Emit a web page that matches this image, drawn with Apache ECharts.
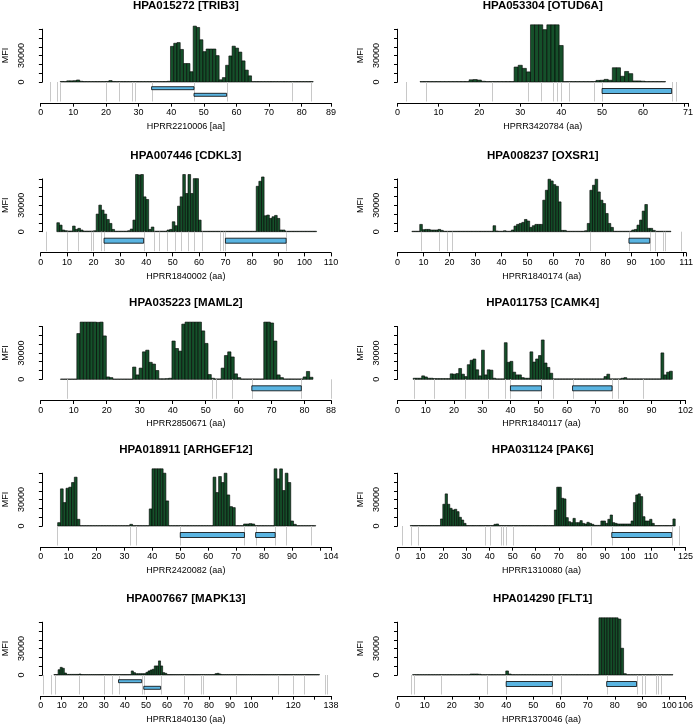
<!DOCTYPE html>
<html>
<head>
<meta charset="utf-8">
<script src="https://cdn.jsdelivr.net/npm/echarts@6/dist/echarts.min.js"></script>
<style>
html, body { margin: 0; padding: 0; background: #fff; }
#chart { width: 696px; height: 725px; }
</style>
</head>
<body>
<div id="chart"></div>
<script>
// MFI per amino acid position, first value is position 6 in every panel
var mfiTRIB3 = [
    600, 500, 1300, 1300, 1500, 2300, 800, 500, 500, 500,
    500, 500, 500, 500, 600, 1600, 600, 500, 500, 500,
    500, 500, 500, 500, 500, 500, 500, 500, 500, 500,
    500, 500, 500, 800, 40500, 44000, 44800, 37000, 21000, 21000,
    11700, 63500, 62000, 48000, 34500, 37500, 37500, 37500, 30000, 2500,
    5000, 19000, 29600, 40700, 38500, 34000, 24000, 13500, 7000, 500,
    500, 500, 500, 500, 500, 500, 500, 500, 500, 500,
    500, 500, 500, 500, 500, 500, 500, 500
];
var mfiOTUD6A = [
    500, 500, 500, 500, 500, 500, 500, 500, 500, 500,
    500, 500, 2500, 2800, 2200, 800, 500, 500, 500, 500,
    500, 500, 500, 17000, 19000, 15500, 11500, 65000, 65000, 65000,
    59500, 65000, 65000, 65000, 41500, 500, 500, 500, 500, 500,
    500, 500, 500, 1800, 2000, 3000, 2000, 16200, 16200, 6500,
    12000, 9500, 1200, 1200, 900, 500, 500, 500, 500, 500
];
var mfiCDKL3 = [
    10200, 7500, 1900, 1100, 800, 800, 6400, 2600, 3800, 1900,
    700, 700, 700, 700, 1100, 20000, 30200, 24500, 20000, 13900,
    9400, 2600, 600, 600, 600, 600, 600, 1100, 3000, 13200,
    65000, 64500, 65000, 39600, 36600, 2600, 5300, 600, 600, 600,
    600, 600, 1900, 2600, 11300, 6800, 29000, 39600, 65000, 43400,
    65000, 43400, 60300, 60300, 13200, 500, 500, 500, 500, 500,
    500, 500, 500, 500, 500, 500, 500, 500, 500, 500,
    500, 500, 500, 500, 500, 500, 51600, 57300, 62200, 18100,
    18900, 15100, 17000, 18500, 15100, 1900, 1900, 500, 500, 500,
    500, 500, 500, 500, 500, 500, 500, 500, 500
];
var mfiOXSR1 = [
    500, 500, 500, 8300, 2300, 2600, 2600, 1900, 1900, 1900,
    2600, 1500, 500, 500, 500, 500, 500, 500, 500, 500,
    500, 500, 500, 500, 500, 500, 500, 500, 500, 500,
    500, 6800, 800, 500, 500, 1100, 500, 500, 1900, 6400,
    8300, 9400, 10600, 13900, 12100, 4900, 6800, 8300, 8300, 8300,
    35800, 47100, 59600, 57700, 53500, 51600, 33900, 1500, 1500, 500,
    500, 500, 500, 500, 500, 500, 1100, 9400, 47100, 52800,
    59600, 45200, 35800, 32000, 20700, 9400, 4900, 500, 500, 500,
    500, 500, 500, 500, 1900, 2600, 7500, 13200, 23400, 30900,
    3800, 3800, 1500, 500, 500, 500, 500, 500, 500
];
var mfiMAML2 = [
    300, 300, 300, 300, 300, 52000, 65000, 65000, 65000, 65000,
    65000, 64700, 65000, 49300, 2700, 1900, 300, 300, 300, 300,
    300, 300, 13900, 5000, 12700, 31200, 33100, 19300, 17300, 10000,
    600, 600, 770, 1200, 43500, 35000, 32000, 62700, 65000, 65000,
    65000, 65000, 65000, 55000, 40800, 5400, 1200, 400, 400, 12700,
    27000, 31200, 25400, 6200, 1900, 400, 400, 400, 400, 400,
    400, 400, 65000, 65000, 64000, 43500, 5000, 1900, 400, 400,
    400, 400, 400, 400, 2700, 8900, 2300
];
var mfiCAMK4 = [
    1200, 1200, 1200, 3900, 2700, 1200, 1200, 800, 800, 800,
    800, 800, 800, 6200, 5800, 6500, 12300, 5800, 3100, 16600,
    21600, 23100, 10800, 3900, 33100, 5000, 10800, 10400, 1200, 500,
    500, 500, 41600, 19300, 20400, 8100, 5000, 5000, 1900, 1200,
    1200, 31200, 19600, 23100, 27000, 44700, 18500, 13500, 6900, 500,
    500, 500, 500, 500, 500, 500, 500, 500, 500, 500,
    500, 500, 500, 500, 500, 500, 500, 3100, 5800, 500,
    500, 500, 500, 1200, 1900, 500, 500, 500, 500, 500,
    500, 500, 500, 500, 500, 500, 500, 30000, 5000, 8100,
    9200
];
var mfiARHGEF12 = [
    3800, 42200, 26600, 42900, 44100, 49400, 55500, 7600, 400, 400,
    400, 400, 400, 400, 400, 400, 400, 400, 400, 400,
    400, 400, 400, 400, 400, 400, 1900, 400, 400, 400,
    400, 400, 400, 19400, 65000, 65000, 65000, 65000, 60000, 28500,
    400, 400, 400, 400, 400, 400, 400, 400, 400, 400,
    400, 400, 400, 400, 400, 400, 55500, 38000, 56200, 49400,
    60000, 35300, 22000, 20900, 400, 400, 400, 2300, 2300, 2700,
    2300, 400, 400, 400, 400, 400, 400, 400, 65000, 53600,
    64900, 40300, 60000, 49400, 5700, 1900, 400, 400, 400, 400,
    400, 400, 400
];
var mfiPAK6 = [
    500, 500, 500, 500, 500, 500, 500, 500, 500, 500,
    500, 500, 500, 8000, 24700, 36500, 24700, 20100, 18200, 19000,
    16300, 9900, 6800, 3000, 500, 500, 500, 500, 500, 500,
    500, 500, 500, 500, 500, 500, 1900, 2300, 500, 500,
    500, 500, 500, 500, 500, 500, 500, 500, 500, 500,
    500, 500, 500, 500, 500, 500, 500, 500, 500, 500,
    500, 500, 18200, 44100, 44100, 31500, 30800, 9500, 4900, 3800,
    8700, 3800, 3800, 6100, 3000, 2300, 4200, 3000, 1900, 700,
    700, 700, 5700, 5700, 3000, 7600, 12500, 3800, 3000, 2300,
    2300, 2300, 2300, 2300, 2300, 5700, 26600, 35300, 36500, 33400,
    10600, 5700, 5700, 7600, 3000, 500, 500, 500, 500, 500,
    500, 500, 500, 8000
];
var mfiMAPK13 = [
    500, 500, 6000, 8700, 7600, 2300, 700, 700, 700, 700,
    700, 700, 1100, 500, 500, 500, 500, 500, 500, 500,
    500, 500, 500, 500, 500, 500, 500, 500, 500, 500,
    500, 500, 500, 500, 500, 500, 500, 4600, 2700, 1500,
    1500, 1500, 1500, 1500, 3000, 4600, 5700, 6500, 10300, 10300,
    16000, 10300, 2700, 1900, 500, 500, 500, 500, 500, 500,
    500, 500, 500, 500, 500, 500, 500, 500, 500, 500,
    500, 500, 500, 500, 500, 500, 500, 1500, 1900, 1100,
    500, 500, 500, 500, 500, 500, 500, 500, 500, 500,
    500, 500, 500, 500, 500, 500, 500, 500, 500, 500,
    500, 500, 500, 500, 500, 500, 500, 500, 500, 500,
    500, 500, 500, 500, 500, 500, 500, 500, 500, 500,
    500, 500, 500, 500, 500, 500, 500
];
var mfiFLT1 = [
    400, 400, 400, 400, 400, 400, 400, 400, 400, 400,
    400, 400, 400, 400, 400, 400, 400, 400, 400, 400,
    400, 1100, 1100, 1100, 800, 400, 400, 400, 400, 400,
    400, 400, 400, 400, 4600, 1100, 400, 400, 400, 400,
    400, 400, 400, 400, 400, 400, 400, 400, 400, 400,
    400, 400, 400, 400, 400, 400, 400, 400, 400, 400,
    400, 400, 400, 400, 400, 400, 400, 400, 65000, 65000,
    65000, 65000, 65000, 65000, 65000, 63600, 30400, 1500, 400, 400,
    400, 400, 400, 400, 400, 400, 400, 400, 400, 400,
    400, 400, 400, 400, 400
];

// peptide boundaries (grey lines) and epitope regions [from, to, row]
var linesTRIB3 = [3, 5, 6, 20, 24, 28, 29, 34, 47, 57, 77, 83];
var epiTRIB3 = [[34, 47, 0], [47, 57, 1]];
var linesOTUD6A = [2, 7, 23, 32, 35, 38, 39, 40, 42, 48, 50, 67, 68];
var epiOTUD6A = [[50, 67, 0]];
var linesCDKL3 = [2, 10, 14, 19, 20, 23, 24, 39, 43, 45, 48, 51, 53, 56, 58, 61, 68, 69, 70, 93];
var epiCDKL3 = [[24, 39, 0], [70, 93, 0]];
var linesOXSR1 = [9, 16, 19, 21, 74, 89, 97, 99, 102, 103, 109];
var epiOXSR1 = [[89, 97, 0]];
var linesMAML2 = [8, 52, 53, 58, 64, 79, 88];
var epiMAML2 = [[64, 79, 0]];
var linesCAMK4 = [6, 13, 24, 32, 38, 40, 51, 55, 62, 76, 78, 87];
var epiCAMK4 = [[40, 51, 0], [62, 76, 0]];
var linesARHGEF12 = [6, 32, 34, 50, 73, 77, 84, 88, 97];
var epiARHGEF12 = [[50, 73, 0], [77, 84, 0]];
var linesPAK6 = [2, 6, 9, 38, 40, 45, 46, 47, 50, 84, 93, 119, 122];
var epiPAK6 = [[93, 119, 0]];
var linesMAPK13 = [1, 5, 7, 18, 30, 34, 37, 48, 49, 57, 68, 76, 77, 93, 113, 120, 125, 135, 136];
var epiMAPK13 = [[37, 48, 0], [49, 57, 1]];
var linesFLT1 = [5, 6, 16, 33, 40, 57, 60, 77, 88, 90, 91, 95, 96, 97];
var epiFLT1 = [[40, 57, 0], [77, 88, 0]];

// axis ticks and the labels that are printed
var mfiTicks = [0, 10000, 20000, 30000, 40000, 50000, 60000];
var mfiLabels = [0, 30000];
var ticksTRIB3 = [0, 10, 20, 30, 40, 50, 60, 70, 80, 89];
var labelsTRIB3 = [0, 10, 20, 30, 40, 50, 60, 70, 80, 89];
var ticksOTUD6A = [0, 10, 20, 30, 40, 50, 60, 70, 71];
var labelsOTUD6A = [0, 10, 20, 30, 40, 50, 60, 71];
var ticksCDKL3 = [0, 10, 20, 30, 40, 50, 60, 70, 80, 90, 100, 110];
var labelsCDKL3 = [0, 10, 20, 30, 40, 50, 60, 70, 80, 90, 100, 110];
var ticksOXSR1 = [0, 10, 20, 30, 40, 50, 60, 70, 80, 90, 100, 110, 111];
var labelsOXSR1 = [0, 10, 20, 30, 40, 50, 60, 70, 80, 90, 100, 111];
var ticksMAML2 = [0, 10, 20, 30, 40, 50, 60, 70, 80, 88];
var labelsMAML2 = [0, 10, 20, 30, 40, 50, 60, 70, 80, 88];
var ticksCAMK4 = [0, 10, 20, 30, 40, 50, 60, 70, 80, 90, 100, 102];
var labelsCAMK4 = [0, 10, 20, 30, 40, 50, 60, 70, 80, 90, 102];
var ticksARHGEF12 = [0, 10, 20, 30, 40, 50, 60, 70, 80, 90, 100, 104];
var labelsARHGEF12 = [0, 10, 20, 30, 40, 50, 60, 70, 80, 90, 104];
var ticksPAK6 = [0, 10, 20, 30, 40, 50, 60, 70, 80, 90, 100, 110, 120, 125];
var labelsPAK6 = [0, 10, 20, 30, 40, 50, 60, 70, 80, 90, 100, 110, 125];
var ticksMAPK13 = [0, 10, 20, 30, 40, 50, 60, 70, 80, 90, 100, 110, 120, 130, 138];
var labelsMAPK13 = [0, 10, 20, 30, 40, 50, 60, 70, 80, 90, 100, 120, 138];
var ticksFLT1 = [0, 10, 20, 30, 40, 50, 60, 70, 80, 90, 100, 106];
var labelsFLT1 = [0, 10, 20, 30, 40, 50, 60, 70, 80, 90, 100, 106];

var panels = [
    { title: "HPA015272 [TRIB3]", xname: "HPRR2210006 [aa]", len: 89, start: 6, mfi: mfiTRIB3, lines: linesTRIB3, epi: epiTRIB3, ticks: ticksTRIB3, labels: labelsTRIB3 },
    { title: "HPA053304 [OTUD6A]", xname: "HPRR3420784 (aa)", len: 71, start: 6, mfi: mfiOTUD6A, lines: linesOTUD6A, epi: epiOTUD6A, ticks: ticksOTUD6A, labels: labelsOTUD6A },
    { title: "HPA007446 [CDKL3]", xname: "HPRR1840002 (aa)", len: 110, start: 6, mfi: mfiCDKL3, lines: linesCDKL3, epi: epiCDKL3, ticks: ticksCDKL3, labels: labelsCDKL3 },
    { title: "HPA008237 [OXSR1]", xname: "HPRR1840174 (aa)", len: 111, start: 6, mfi: mfiOXSR1, lines: linesOXSR1, epi: epiOXSR1, ticks: ticksOXSR1, labels: labelsOXSR1 },
    { title: "HPA035223 [MAML2]", xname: "HPRR2850671 (aa)", len: 88, start: 6, mfi: mfiMAML2, lines: linesMAML2, epi: epiMAML2, ticks: ticksMAML2, labels: labelsMAML2 },
    { title: "HPA011753 [CAMK4]", xname: "HPRR1840117 (aa)", len: 102, start: 6, mfi: mfiCAMK4, lines: linesCAMK4, epi: epiCAMK4, ticks: ticksCAMK4, labels: labelsCAMK4 },
    { title: "HPA018911 [ARHGEF12]", xname: "HPRR2420082 (aa)", len: 104, start: 6, mfi: mfiARHGEF12, lines: linesARHGEF12, epi: epiARHGEF12, ticks: ticksARHGEF12, labels: labelsARHGEF12 },
    { title: "HPA031124 [PAK6]", xname: "HPRR1310080 (aa)", len: 125, start: 6, mfi: mfiPAK6, lines: linesPAK6, epi: epiPAK6, ticks: ticksPAK6, labels: labelsPAK6 },
    { title: "HPA007667 [MAPK13]", xname: "HPRR1840130 (aa)", len: 138, start: 6, mfi: mfiMAPK13, lines: linesMAPK13, epi: epiMAPK13, ticks: ticksMAPK13, labels: labelsMAPK13 },
    { title: "HPA014290 [FLT1]", xname: "HPRR1370046 (aa)", len: 106, start: 6, mfi: mfiFLT1, lines: linesFLT1, epi: epiFLT1, ticks: ticksFLT1, labels: labelsFLT1 }
];

// layout in pixels
var cols = [{ yx: 29.3, x0: 40.7, x1: 331 }, { yx: 386.5, x0: 397.5, x1: 688 }];
var rowBase = [82, 231.7, 379.3, 526, 675];
var plotH = 52.8, annoH = 21;
var font = "'Liberation Sans', Arial, Helvetica, sans-serif";

var option = { animation: false, title: [], grid: [], xAxis: [], yAxis: [], series: [] };

function barItem(params, api) {
    var a = api.coord([api.value(0) - 0.5, api.value(1)]);
    var b = api.coord([api.value(0) + 0.5, 0]);
    return {
        type: "rect",
        shape: { x: a[0], y: a[1], width: b[0] - a[0], height: b[1] - a[1] },
        style: { fill: "#15502a", stroke: "#000", lineWidth: 0.6 }
    };
}

function lineItem(params, api) {
    var t = api.coord([api.value(0), 1]);
    var b = api.coord([api.value(0), 0]);
    var x = Math.round(t[0]) + 0.5;
    return {
        type: "line",
        shape: { x1: x, y1: t[1], x2: x, y2: b[1] - 1.5 },
        style: { stroke: "#c8c8c8", lineWidth: 1 }
    };
}

function epiRenderer(nrows) {
    return function (params, api) {
        var a = api.coord([api.value(0), 1]);
        var b = api.coord([api.value(1), 0]);
        var r = api.value(2);
        var y = nrows > 1 ? a[1] + 4.7 + 6.6 * r : a[1] + 6.5;
        var h = nrows > 1 ? 3 : 5;
        return {
            type: "rect",
            shape: { x: a[0], y: y, width: b[0] - a[0], height: h },
            style: { fill: "#5ab4e1", stroke: "#000", lineWidth: 0.8 }
        };
    };
}

function plainNumber(v) { return String(v); }

panels.forEach(function (p, i) {
    var L = cols[i % 2];
    var base = rowBase[Math.floor(i / 2)];
    var w = L.x1 - L.x0;
    var g = 2 * i;
    var nrows = 1;
    p.epi.forEach(function (e) { nrows = Math.max(nrows, e[2] + 1); });

    option.title.push({
        text: p.title, left: L.x0 + w / 2, top: base - 82, textAlign: "center", padding: 0,
        textStyle: { fontSize: 11.5, fontWeight: "bold", color: "#000", fontFamily: font }
    });
    option.grid.push({ left: L.x0, top: base - plotH, width: w, height: plotH });
    option.grid.push({ left: L.x0, top: base, width: w, height: annoH });

    option.xAxis.push({ gridIndex: g, type: "value", min: 0, max: p.len, show: false });
    option.yAxis.push({
        gridIndex: g, type: "value", min: 0, max: 60000, offset: L.x0 - L.yx,
        axisLine: { show: true, lineStyle: { color: "#000", width: 1 } },
        axisTick: { show: true, length: 3.5, customValues: mfiTicks, lineStyle: { color: "#000" } },
        axisLabel: { customValues: mfiLabels, formatter: plainNumber, rotate: 90, fontSize: 9, margin: 5, color: "#000", fontFamily: font },
        splitLine: { show: false },
        name: "MFI", nameLocation: "middle", nameGap: 21,
        nameTextStyle: { fontSize: 9, color: "#000", fontFamily: font }
    });
    option.xAxis.push({
        gridIndex: g + 1, type: "value", min: 0, max: p.len, position: "bottom",
        axisLine: { show: true, lineStyle: { color: "#000", width: 1 } },
        axisTick: { show: true, length: 3.7, customValues: p.ticks, lineStyle: { color: "#000" } },
        axisLabel: { customValues: p.labels, formatter: plainNumber, fontSize: 9, margin: 5.5, color: "#000", fontFamily: font },
        splitLine: { show: false },
        name: p.xname, nameLocation: "middle", nameGap: 19,
        nameTextStyle: { fontSize: 9, color: "#000", fontFamily: font }
    });
    option.yAxis.push({ gridIndex: g + 1, type: "value", min: 0, max: 1, show: false });

    option.series.push({
        type: "custom", xAxisIndex: g, yAxisIndex: g, clip: false, silent: true,
        renderItem: barItem,
        data: p.mfi.map(function (v, k) { return [p.start + k, v]; })
    });
    option.series.push({
        type: "custom", xAxisIndex: g + 1, yAxisIndex: g + 1, silent: true,
        renderItem: lineItem,
        data: p.lines.map(function (v) { return [v]; })
    });
    option.series.push({
        type: "custom", xAxisIndex: g + 1, yAxisIndex: g + 1, silent: true,
        renderItem: epiRenderer(nrows),
        data: p.epi
    });
});

var chart = echarts.init(document.getElementById("chart"));
chart.setOption(option);
</script>
</body>
</html>
